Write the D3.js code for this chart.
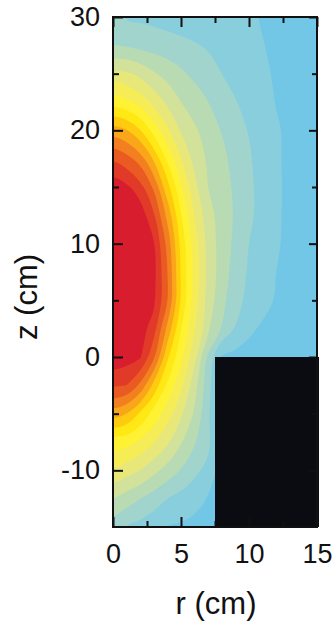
<!DOCTYPE html>
<html>
<head>
<meta charset="utf-8">
<script src="https://cdn.jsdelivr.net/npm/d3@7"></script>
<style>
  body { margin: 0; background: #fff; }
  svg text { font-family: "Liberation Sans", Arial, Helvetica, sans-serif; fill: #111; }
</style>
</head>
<body>
<svg id="chart" width="335" height="624"></svg>
<script>
// grid: columns are r (cm), rows are z (cm) from top to bottom
const rValues = [0, 1, 2, 3, 4, 5, 6, 7, 8, 9, 10, 11, 12, 13, 14, 15];
const zValues = [30, 27.5, 25, 22.5, 20, 17.5, 15, 12.5, 10, 7.5, 5, 2.5, 0, -2.5, -5, -7.5, -10, -12.5, -15];
const field = [
  [2.0, 1.91, 1.81, 1.72, 1.63, 1.53, 1.44, 1.35, 1.25, 1.16, 1.07, 0.97, 0.85, 0.73, 0.62, 0.5],
  [3.0, 2.85, 2.69, 2.54, 2.38, 2.23, 2.08, 1.89, 1.67, 1.46, 1.24, 1.02, 0.9, 0.77, 0.63, 0.5],
  [5.4, 5.13, 4.71, 4.12, 3.64, 3.18, 2.77, 2.38, 2.0, 1.71, 1.41, 1.12, 0.92, 0.78, 0.64, 0.5],
  [7.5, 7.17, 6.55, 5.64, 4.77, 4.0, 3.5, 3.0, 2.52, 2.05, 1.67, 1.3, 0.97, 0.81, 0.66, 0.5],
  [10.44, 10.05, 9.03, 7.59, 6.16, 4.9, 4.15, 3.53, 2.95, 2.45, 1.96, 1.52, 1.08, 0.85, 0.68, 0.5],
  [12.83, 12.33, 11.52, 9.81, 7.76, 6.0, 4.65, 3.82, 3.24, 2.67, 2.11, 1.58, 1.09, 0.86, 0.69, 0.5],
  [14.6, 14.21, 13.39, 11.8, 9.38, 7.14, 5.27, 4.0, 3.41, 2.82, 2.22, 1.62, 1.1, 0.86, 0.69, 0.5],
  [15.3, 15.15, 14.6, 13.14, 10.71, 8.05, 5.96, 4.38, 3.53, 2.88, 2.22, 1.6, 1.09, 0.86, 0.69, 0.5],
  [15.55, 15.4, 15.0, 14.08, 11.65, 8.68, 6.43, 4.63, 3.54, 2.77, 2.0, 1.53, 1.07, 0.85, 0.68, 0.5],
  [15.6, 15.45, 15.05, 14.3, 12.0, 8.88, 6.6, 4.71, 3.5, 2.58, 1.87, 1.43, 1.0, 0.83, 0.67, 0.5],
  [15.6, 15.45, 15.05, 14.25, 12.0, 8.86, 6.44, 4.57, 3.27, 2.36, 1.71, 1.24, 0.93, 0.79, 0.64, 0.5],
  [15.2, 15.05, 14.6, 13.4, 10.74, 8.04, 6.09, 4.33, 2.89, 1.87, 1.2, 0.9, 0.75, 0.65, 0.57, 0.5],
  [14.55, 14.45, 14.1, 12.17, 9.21, 7.19, 5.25, 2.75, 0.9, 0.7, 0.6, 0.55, 0.5, 0.5, 0.5, 0.5],
  [13.33, 13.0, 11.78, 9.7, 7.79, 6.24, 4.4, 2.4, 0.5, 0.5, 0.5, 0.5, 0.5, 0.5, 0.5, 0.5],
  [10.43, 9.99, 8.84, 7.64, 6.43, 5.18, 3.83, 2.17, 0.5, 0.5, 0.5, 0.5, 0.5, 0.5, 0.5, 0.5],
  [7.58, 7.35, 6.8, 6.07, 5.17, 4.09, 3.1, 2.31, 0.5, 0.5, 0.5, 0.5, 0.5, 0.5, 0.5, 0.5],
  [5.82, 5.45, 5.0, 4.29, 3.6, 2.93, 2.27, 1.63, 0.5, 0.5, 0.5, 0.5, 0.5, 0.5, 0.5, 0.5],
  [4.0, 3.5, 3.0, 2.5, 2.0, 1.64, 1.29, 0.95, 0.5, 0.5, 0.5, 0.5, 0.5, 0.5, 0.5, 0.5],
  [2.3, 2.0, 1.67, 1.33, 1.0, 0.87, 0.75, 0.62, 0.5, 0.5, 0.5, 0.5, 0.5, 0.5, 0.5, 0.5]
];
const levels = [1, 2, 3, 4, 5, 6, 7, 8, 9, 10, 11, 12, 13, 14];
const levelColors = ["#72c7e7", "#88cedd", "#a0d4cc", "#b9dbb4", "#d2e29a", "#e8e87a", "#f6ed56",
  "#fff233", "#ffe814", "#ffcb0e", "#f9a61b", "#f27f20", "#ea5b24", "#e13a28", "#d81d2e"];
// black block (cm)
const blockR = [7.5, 15];
const blockZ = [-15, 0];

const xTicks = [0, 5, 10, 15];
const xMinor = [2.5, 7.5, 12.5];
const yTicks = [-10, 0, 10, 20, 30];
const yMinor = [-5, 5, 15, 25];

const plotLeft = 113, plotRight = 317, plotTop = 17, plotBottom = 527;
const svg = d3.select("#chart");
const x = d3.scaleLinear().domain([0, 15]).range([plotLeft, plotRight]);
const y = d3.scaleLinear().domain([-15, 30]).range([plotBottom, plotTop]);

// mirror around r = 0 and repeat the edge rows so the smoothed rings close outside the plot
const dr = rValues[1] - rValues[0];
const dz = zValues[0] - zValues[1];
const rFull = rValues.slice(1).reverse().map(r => -r).concat(rValues);
const rows = [field[0]].concat(field, [field[field.length - 1]]);
const zFirst = zValues[0] + dz;
const values = [];
rows.forEach(row => values.push(...row.slice(1).reverse().concat(row)));
const nx = rFull.length, ny = rows.length;
const toR = u => rFull[0] + (u - 0.5) * dr;
const toZ = v => zFirst - (v - 0.5) * dz;

// drop ring vertices that sit too close together, so the curve can round the corners
function thin(points, minDist) {
  const out = [points[0]];
  for (let i = 1; i < points.length; i++) {
    const q = out[out.length - 1];
    if (Math.hypot(points[i][0] - q[0], points[i][1] - q[1]) >= minDist) out.push(points[i]);
  }
  return out.length >= 4 ? out : points;
}

svg.append("defs").append("clipPath").attr("id", "plotClip")
  .append("rect")
  .attr("x", plotLeft).attr("y", plotTop)
  .attr("width", plotRight - plotLeft).attr("height", plotBottom - plotTop);

const plot = svg.append("g").attr("clip-path", "url(#plotClip)");
plot.append("rect")
  .attr("x", plotLeft).attr("y", plotTop)
  .attr("width", plotRight - plotLeft).attr("height", plotBottom - plotTop)
  .attr("fill", levelColors[0]);

const contours = d3.contours().size([nx, ny]).thresholds(levels)(values);
const line = d3.line().curve(d3.curveCatmullRomClosed.alpha(0.5));
plot.selectAll("path.band")
  .data(contours)
  .join("path")
  .attr("class", "band")
  .attr("fill-rule", "evenodd")
  .attr("fill", (d, i) => levelColors[i + 1])
  .attr("d", d => d.coordinates.map(poly => poly.map(ring =>
    line(thin(ring.slice(0, -1).map(([u, v]) => [x(toR(u)), y(toZ(v))]), 14))).join("")).join(""));

// black block
svg.append("rect")
  .attr("x", x(blockR[0]))
  .attr("y", y(blockZ[1]))
  .attr("width", x(blockR[1]) - x(blockR[0]) + 2)
  .attr("height", y(blockZ[0]) - y(blockZ[1]))
  .attr("fill", "#0b0b12");

// axes, ticks inward on all sides
function styleAxis(g) {
  g.select(".domain").remove();
  g.selectAll(".tick line").attr("stroke", "#111").attr("stroke-width", 2);
  g.selectAll(".tick text").style("font-size", "27px");
}
svg.append("g").attr("transform", `translate(0,${plotBottom})`)
  .call(d3.axisBottom(x).tickValues(xTicks).tickSize(-10).tickPadding(17).tickFormat(d => String(d)))
  .call(styleAxis);
svg.append("g").attr("transform", `translate(0,${plotBottom})`)
  .call(d3.axisBottom(x).tickValues(xMinor).tickSize(-6).tickFormat(""))
  .call(styleAxis);
svg.append("g").attr("transform", `translate(0,${plotTop})`)
  .call(d3.axisTop(x).tickValues(xTicks).tickSize(-10).tickFormat(""))
  .call(styleAxis);
svg.append("g").attr("transform", `translate(0,${plotTop})`)
  .call(d3.axisTop(x).tickValues(xMinor).tickSize(-6).tickFormat(""))
  .call(styleAxis);
svg.append("g").attr("transform", `translate(${plotLeft},0)`)
  .call(d3.axisLeft(y).tickValues(yTicks).tickSize(-10).tickPadding(13).tickFormat(d => String(d)))
  .call(styleAxis);
svg.append("g").attr("transform", `translate(${plotLeft},0)`)
  .call(d3.axisLeft(y).tickValues(yMinor).tickSize(-6).tickFormat(""))
  .call(styleAxis);
svg.append("g").attr("transform", `translate(${plotRight},0)`)
  .call(d3.axisRight(y).tickValues(yTicks).tickSize(-8).tickFormat(""))
  .call(styleAxis);
svg.append("g").attr("transform", `translate(${plotRight},0)`)
  .call(d3.axisRight(y).tickValues(yMinor).tickSize(-5).tickFormat(""))
  .call(styleAxis);

// frame
svg.append("rect")
  .attr("x", plotLeft).attr("y", plotTop)
  .attr("width", plotRight - plotLeft).attr("height", plotBottom - plotTop)
  .attr("fill", "none").attr("stroke", "#111").attr("stroke-width", 2);

// axis titles
svg.append("text")
  .attr("x", (plotLeft + plotRight) / 2 + 1).attr("y", 614)
  .attr("text-anchor", "middle")
  .style("font-size", "31px")
  .text("r (cm)");
svg.append("text")
  .attr("transform", "translate(37,297) rotate(-90)")
  .attr("text-anchor", "middle")
  .style("font-size", "31px")
  .text("z (cm)");
</script>
</body>
</html>
